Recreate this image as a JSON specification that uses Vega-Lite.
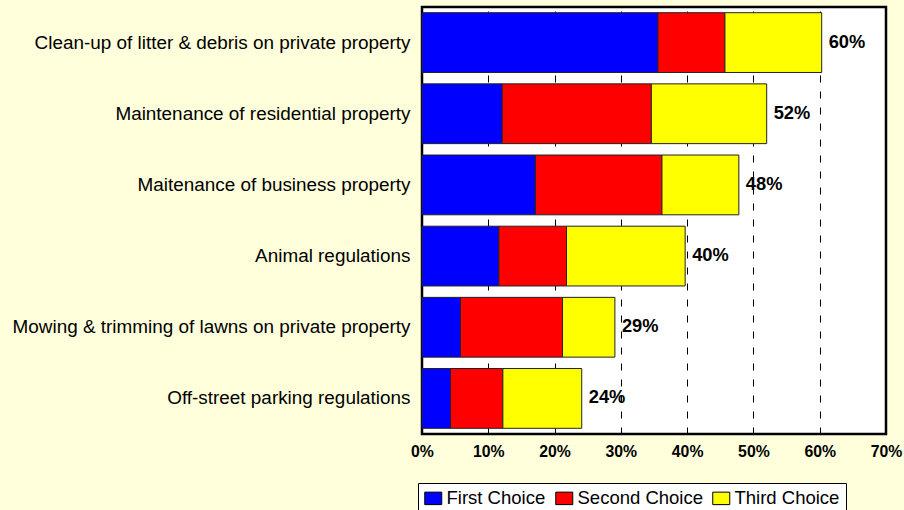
{
  "$schema": "https://vega.github.io/schema/vega-lite/v6.json",
  "width": 464,
  "height": 427,
  "autosize": {"type": "none"},
  "padding": {"left": 422, "top": 7, "right": 18, "bottom": 76},
  "background": "#FFFFDC",
  "config": {
    "font": "Liberation Sans",
    "view": {"stroke": "#000000", "strokeWidth": 2.5, "fill": "#FFFFFF"}
  },
  "datasets": {
    "segments": [
      {"item": "Clean-up of litter & debris on private property", "choice": "First Choice", "rank": 1, "value": 35.6},
      {"item": "Clean-up of litter & debris on private property", "choice": "Second Choice", "rank": 2, "value": 10.1},
      {"item": "Clean-up of litter & debris on private property", "choice": "Third Choice", "rank": 3, "value": 14.6},
      {"item": "Maintenance of residential property", "choice": "First Choice", "rank": 1, "value": 12.1},
      {"item": "Maintenance of residential property", "choice": "Second Choice", "rank": 2, "value": 22.5},
      {"item": "Maintenance of residential property", "choice": "Third Choice", "rank": 3, "value": 17.4},
      {"item": "Maitenance of business property", "choice": "First Choice", "rank": 1, "value": 17.1},
      {"item": "Maitenance of business property", "choice": "Second Choice", "rank": 2, "value": 19.1},
      {"item": "Maitenance of business property", "choice": "Third Choice", "rank": 3, "value": 11.6},
      {"item": "Animal regulations", "choice": "First Choice", "rank": 1, "value": 11.6},
      {"item": "Animal regulations", "choice": "Second Choice", "rank": 2, "value": 10.2},
      {"item": "Animal regulations", "choice": "Third Choice", "rank": 3, "value": 17.9},
      {"item": "Mowing & trimming of lawns on private property", "choice": "First Choice", "rank": 1, "value": 5.8},
      {"item": "Mowing & trimming of lawns on private property", "choice": "Second Choice", "rank": 2, "value": 15.4},
      {"item": "Mowing & trimming of lawns on private property", "choice": "Third Choice", "rank": 3, "value": 7.9},
      {"item": "Off-street parking regulations", "choice": "First Choice", "rank": 1, "value": 4.3},
      {"item": "Off-street parking regulations", "choice": "Second Choice", "rank": 2, "value": 7.9},
      {"item": "Off-street parking regulations", "choice": "Third Choice", "rank": 3, "value": 11.9}
    ],
    "totals": [
      {"item": "Clean-up of litter & debris on private property", "total": 60.3, "label": "60%"},
      {"item": "Maintenance of residential property", "total": 52.0, "label": "52%"},
      {"item": "Maitenance of business property", "total": 47.8, "label": "48%"},
      {"item": "Animal regulations", "total": 39.7, "label": "40%"},
      {"item": "Mowing & trimming of lawns on private property", "total": 29.1, "label": "29%"},
      {"item": "Off-street parking regulations", "total": 24.1, "label": "24%"}
    ]
  },
  "layer": [
    {
      "data": {"name": "segments"},
      "mark": {"type": "bar", "stroke": "#222222", "strokeWidth": 1},
      "encoding": {
        "y": {
          "field": "item", "type": "nominal",
          "sort": ["Clean-up of litter & debris on private property", "Maintenance of residential property", "Maitenance of business property", "Animal regulations", "Mowing & trimming of lawns on private property", "Off-street parking regulations"],
          "scale": {"paddingInner": 0.16, "paddingOuter": 0.08},
          "axis": {"title": null, "domain": false, "ticks": false, "labelFontSize": 18.9, "labelPadding": 12, "labelColor": "#000000", "labelLimit": 500}
        },
        "x": {
          "field": "value", "type": "quantitative", "stack": "zero",
          "scale": {"domain": [0, 70], "nice": false},
          "axis": {"title": null, "domain": false, "ticks": false, "grid": true, "gridDash": [7, 9], "gridColor": "#000000", "gridWidth": 1, "values": [0, 10, 20, 30, 40, 50, 60, 70], "labelExpr": "datum.value + '%'", "labelFontSize": 15.8, "labelFontWeight": "bold", "labelPadding": 10, "labelColor": "#000000", "labelFlush": false}
        },
        "color": {
          "field": "choice", "type": "nominal",
          "scale": {"domain": ["First Choice", "Second Choice", "Third Choice"], "range": ["#0000FF", "#FF0000", "#FFFF00"]},
          "legend": {"title": null, "orient": "none", "legendX": -4, "legendY": 476, "direction": "horizontal", "fillColor": "#FFFFFF", "strokeColor": "#000000", "padding": 6, "labelFontSize": 18.5, "labelColor": "#000000", "labelOffset": 4, "columnPadding": 7, "symbolType": "M-1,-0.735H1V0.735H-1Z", "symbolSize": 289, "symbolStrokeColor": "#000000", "symbolStrokeWidth": 1, "symbolOpacity": 1}
        },
        "order": {"field": "rank", "type": "quantitative"}
      }
    },
    {
      "data": {"name": "totals"},
      "mark": {"type": "text", "align": "left", "baseline": "middle", "dx": 7, "fontWeight": "bold", "fontSize": 18.3, "color": "#000000"},
      "encoding": {
        "y": {"field": "item", "type": "nominal", "sort": ["Clean-up of litter & debris on private property", "Maintenance of residential property", "Maitenance of business property", "Animal regulations", "Mowing & trimming of lawns on private property", "Off-street parking regulations"]},
        "x": {"field": "total", "type": "quantitative"},
        "text": {"field": "label"}
      }
    }
  ]
}
